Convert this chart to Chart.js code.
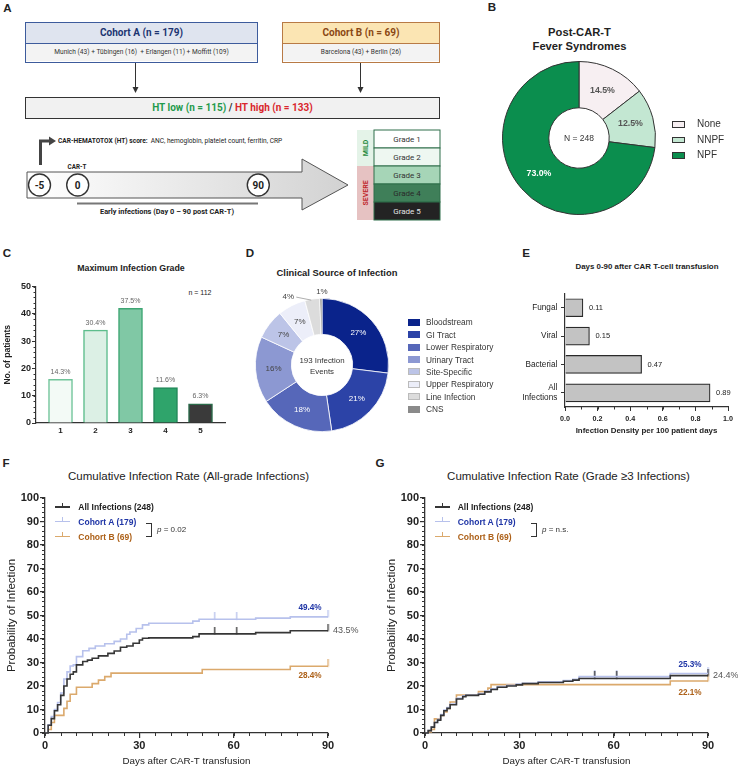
<!DOCTYPE html>
<html>
<head>
<meta charset="utf-8">
<title>Infections after CAR-T</title>
<script src="https://cdn.jsdelivr.net/npm/chart.js@4.4.1/dist/chart.umd.min.js"></script>
<style>
  html, body { margin: 0; padding: 0; background: #fff; }
  #fig { position: relative; width: 738px; height: 767px; overflow: hidden;
         font-family: 'Liberation Sans', Arial, sans-serif; color: #222; }
  #fig canvas { position: absolute; }
  .t { position: absolute; line-height: 1; white-space: nowrap; transform: translate(-50%, -50%); }
  .tl { transform: translate(0, -50%); }
  .box { position: absolute; box-sizing: border-box; }
  .rb { position: absolute; box-sizing: border-box; font-family: Roboto, sans-serif; text-align: center; }
</style>
</head>
<body>
<div id="fig">
  <!-- panel A: study design -->
  <div class="rb" style="left:25px;top:22px;width:233px;height:41px;border:1.5px solid #3d5b9c;">
    <div style="height:20px;line-height:20px;background:#dfe4ef;border-bottom:1px solid #3d5b9c;font-weight:bold;font-size:10px;color:#1c3572;">Cohort A (n = 179)</div>
    <div style="height:17px;line-height:17px;background:#f3f3f3;font-size:6.6px;color:#333;">Munich (43) + Tübingen (16)&nbsp; + Erlangen (11) + Moffitt (109)</div>
  </div>
  <div class="rb" style="left:282px;top:22px;width:158px;height:41px;border:1.5px solid #b87a45;">
    <div style="height:20px;line-height:20px;background:#fbe5b3;border-bottom:1px solid #b87a45;font-weight:bold;font-size:10px;color:#8a4814;">Cohort B (n = 69)</div>
    <div style="height:17px;line-height:17px;background:#f3f3f3;font-size:6.6px;color:#333;">Barcelona (43) + Berlin (26)</div>
  </div>
  <div class="rb" style="left:25px;top:96.5px;width:415px;height:22px;border:1.5px solid #333;background:#f1f1f1;line-height:19px;font-weight:bold;font-size:10px;color:#333;">
    <span style="color:#1f9a4b">HT low (n = 115)</span> / <span style="color:#d9262c">HT high (n = 133)</span>
  </div>
  <svg width="738" height="232" style="position:absolute;left:0;top:0" font-family="Roboto, sans-serif">
    <defs>
      <linearGradient id="arrowFill" x1="0" x2="1" y1="0" y2="0">
        <stop offset="0" stop-color="#ffffff"/>
        <stop offset="1" stop-color="#d2d2d2"/>
      </linearGradient>
    </defs>
    <line x1="135.5" y1="63" x2="135.5" y2="88" stroke="#333" stroke-width="1"/>
    <polygon points="132.5,87 138.5,87 135.5,93" fill="#333"/>
    <line x1="360.5" y1="63" x2="360.5" y2="88" stroke="#333" stroke-width="1"/>
    <polygon points="357.5,87 363.5,87 360.5,93" fill="#333"/>

    <polygon points="27,172 302,172 302,159 348,185 302,210 302,198 27,198" fill="url(#arrowFill)" stroke="#555" stroke-width="1"/>
    <path d="M40.5,165 V141 H50" fill="none" stroke="#444" stroke-width="3"/>
    <polygon points="49,136.5 56,141 49,145.5" fill="#444"/>
    <text x="58" y="143.2" font-size="6.6" fill="#222"><tspan font-weight="bold">CAR-HEMATOTOX (HT) score:</tspan><tspan dx="3">ANC, hemoglobin, platelet count, ferritin, CRP</tspan></text>
    <text x="77" y="169" font-size="6.3" font-weight="bold" text-anchor="middle" fill="#222">CAR-T</text>
    <circle cx="39.5" cy="185" r="11" fill="#fff" stroke="#333" stroke-width="1.4"/>
    <text x="39.5" y="188.6" font-size="10" font-weight="bold" text-anchor="middle" fill="#222">-5</text>
    <circle cx="77.7" cy="185" r="11" fill="#fff" stroke="#333" stroke-width="1.4"/>
    <text x="77.7" y="188.6" font-size="10" font-weight="bold" text-anchor="middle" fill="#222">0</text>
    <circle cx="258.3" cy="185" r="11" fill="#fff" stroke="#333" stroke-width="1.4"/>
    <text x="258.3" y="188.6" font-size="10" font-weight="bold" text-anchor="middle" fill="#222">90</text>
    <line x1="77" y1="203.5" x2="258" y2="203.5" stroke="#777" stroke-width="2"/>
    <text x="167" y="213.5" font-size="7.4" font-weight="bold" text-anchor="middle" fill="#222">Early infections (Day 0 – 90 post CAR-T)</text>

    <rect x="357" y="130" width="17" height="36" fill="#e4f3e8"/>
    <rect x="357" y="166" width="17" height="54" fill="#e6c2c2"/>
    <text transform="translate(368,148) rotate(-90)" font-size="7" font-weight="bold" fill="#1f8a3c" text-anchor="middle">MILD</text>
    <text transform="translate(368,193) rotate(-90)" font-size="7" font-weight="bold" fill="#c0282d" text-anchor="middle">SEVERE</text>
    <g stroke="#2f6e4a" stroke-width="1">
      <rect x="374" y="130" width="66" height="18" fill="#ffffff"/>
      <rect x="374" y="148" width="66" height="18" fill="#eef7f1"/>
      <rect x="374" y="166" width="66" height="18" fill="#a6d5b7"/>
      <rect x="374" y="184" width="66" height="18" fill="#3f7f59"/>
      <rect x="374" y="202" width="66" height="18" fill="#232323"/>
    </g>
    <g font-size="8" text-anchor="middle">
      <text x="407" y="141.8" fill="#333">Grade 1</text>
      <text x="407" y="159.8" fill="#333">Grade 2</text>
      <text x="407" y="177.8" fill="#333">Grade 3</text>
      <text x="407" y="195.8" fill="#2a2a2a">Grade 4</text>
      <text x="407" y="213.8" fill="#e4e4e4">Grade 5</text>
    </g>
  </svg>
</div>

<script>
// ---------- data ----------
// B: post CAR-T fever syndromes (% of 248)
const feverLabels = ['None', 'NNPF', 'NPF'];
const feverPct = [14.5, 12.5, 73.0];
const feverTotal = 248;

// C: maximum infection grade
const grades = [1, 2, 3, 4, 5];
const gradeCounts = [16, 34, 42, 13, 7];
const gradeTotal = 112;

// D: clinical source of infection (193 events)
const sourceLabels = ['Bloodstream', 'GI Tract', 'Lower Respiratory', 'Urinary Tract',
                      'Site-Specific', 'Upper Respiratory', 'Line Infection', 'CNS'];
const sourceCounts = [52, 40, 35, 31, 14, 13, 7, 1];

// E: infection density per 100 patient days
const densityLabels = ['Fungal', 'Viral', 'Bacterial', ['All', 'Infections']];
const densityValues = [0.11, 0.15, 0.47, 0.89];

// F/G: cumulative incidence (step curves), series = all, cohort A, cohort B
const kmNames = ['All Infections (248)', 'Cohort A (179)', 'Cohort B (69)'];

const fAllDays = [0, 1, 2, 3, 4, 5, 6, 7, 8, 9, 10, 12, 13.5, 15, 17, 20, 22, 24, 26, 28, 30, 31, 33, 47, 49, 67, 78, 90];
const fAllVals = [0, 3.3, 6.1, 9.5, 12, 16, 20, 23, 25, 26, 29, 30.4, 31, 31.8, 32.8, 33.9, 34.9, 36.5, 37, 38.2, 39.6, 40.3, 40.5, 41, 42.2, 42.7, 43.5, 43.5];
const fADays = [0, 1, 2, 3, 4, 5, 6, 7, 8, 9, 10, 12, 14, 16, 19, 22, 24, 26, 27, 29, 31, 33, 47, 49, 67, 78, 90];
const fAVals = [0, 3.5, 7, 10, 13, 17, 23, 26, 28.5, 29, 32.5, 35, 36, 37, 38, 39, 40, 42, 43, 44.5, 46, 46.7, 47.6, 48.4, 48.9, 49.4, 49.4];
const fBDays = [0, 1, 2, 3, 6, 7, 8, 10, 15, 17, 19, 21, 50, 78, 90];
const fBVals = [0, 1.5, 4.5, 7.5, 10.5, 13.5, 16.5, 19.5, 21, 22.5, 24, 25.5, 27, 28.4, 28.4];
const fCensor = [[54, 61, 90], [54, 61, 90], [90]];

const gAllDays = [0, 1, 2, 3, 4, 5, 6, 7, 8, 10, 12, 13, 17, 19, 21, 23, 26, 29, 31, 36, 44, 47, 49, 78, 90];
const gAllVals = [0, 1, 2.5, 4.5, 5.5, 7.5, 9.5, 10.5, 12, 14.5, 15.5, 16, 16.5, 17.5, 18.5, 19.5, 20, 20.5, 21, 21.5, 22, 22.5, 23.2, 24.4, 24.4];
const gADays = [0, 1, 2, 3, 4, 5, 6, 7, 8, 10, 12, 13, 17, 19, 21, 23, 26, 29, 31, 36, 44, 47, 49, 78, 90];
const gAVals = [0, 1, 2.5, 4.5, 5.8, 7.8, 9.8, 10.8, 12.3, 14.8, 15.8, 16.2, 16.8, 17.8, 18.8, 19.8, 20.3, 20.8, 21.2, 21.8, 22.3, 22.8, 24, 25.3, 25.3];
const gBDays = [0, 1, 2, 3, 5, 6, 7, 8, 10, 17, 20, 21, 78, 90];
const gBVals = [0, 0.5, 1.5, 6, 7.5, 9, 10.5, 13.2, 16.2, 17.6, 19.1, 20.6, 22.1, 22.1];
const gCensor = [[54, 61, 90], [54, 61, 90], [90]];

// ---------- styles ----------
const FONT = "'Liberation Sans', Arial, Helvetica, sans-serif";
const feverColors = ['#f7eff2', '#c3e7d2', '#0b8e4e'];
const gradeFill = ['#f3faf6', '#dcf0e5', '#80c8a5', '#2fa46b', '#3a3a3a'];
const gradeBorder = ['#6fc499', '#5dbd8c', '#3ea673', '#23885a', '#2b6b4a'];
const sourceColors = ['#0a238b', '#2c43a7', '#5667b9', '#8c98d2', '#bcc4e7', '#eceef9', '#dcdcdc', '#8a8a8a'];
const kmLineColors = ['#363636', '#b7c1ec', '#dba96c'];
const kmTextColors = ['#1e1e1e', '#1f35a6', '#ad6119'];

Chart.defaults.font.family = FONT;
Chart.defaults.color = '#222';
Chart.defaults.animation = false;
Chart.defaults.plugins.legend.display = false;
Chart.defaults.plugins.tooltip.enabled = false;

const fig = document.getElementById('fig');

function txt(x, y, html, css, left) {
  const d = document.createElement('div');
  d.className = left ? 't tl' : 't';
  d.style.cssText = 'left:' + x + 'px;top:' + y + 'px;' + (css || '');
  d.innerHTML = html;
  fig.appendChild(d);
  return d;
}
function box(x, y, w, h, css) {
  const d = document.createElement('div');
  d.className = 'box';
  d.style.cssText = 'left:' + x + 'px;top:' + y + 'px;width:' + w + 'px;height:' + h + 'px;' + css;
  fig.appendChild(d);
  return d;
}
function makeCanvas(x, y, w, h) {
  const c = document.createElement('canvas');
  c.width = w; c.height = h;
  c.style.left = x + 'px'; c.style.top = y + 'px';
  c.style.width = w + 'px'; c.style.height = h + 'px';
  fig.appendChild(c);
  return c;
}

// small ticks between the labelled ones
const minorTicks = {
  id: 'minorTicks',
  afterDraw(chart, args, opts) {
    const ctx = chart.ctx;
    (opts.axes || []).forEach(a => {
      const s = chart.scales[a.id];
      const n = Math.round((s.max - s.min) / a.step);
      ctx.save();
      ctx.strokeStyle = '#333';
      ctx.lineWidth = 1;
      for (let k = 0; k <= n; k++) {
        const p = Math.round(s.getPixelForValue(s.min + k * a.step)) + 0.5;
        ctx.beginPath();
        if (s.isHorizontal()) { ctx.moveTo(p, s.top); ctx.lineTo(p, s.top + a.len); }
        else { ctx.moveTo(s.right, p); ctx.lineTo(s.right - a.len, p); }
        ctx.stroke();
      }
      ctx.restore();
    });
  }
};

// text next to bars
const barText = {
  id: 'barText',
  afterDatasetsDraw(chart, args, o) {
    const ctx = chart.ctx;
    chart.getDatasetMeta(0).data.forEach((b, i) => {
      ctx.save();
      ctx.font = o.font;
      ctx.fillStyle = o.color;
      if (o.pos === 'right') {
        ctx.textAlign = 'left'; ctx.textBaseline = 'middle';
        ctx.fillText(o.texts[i], b.x + 6, b.y);
      } else {
        ctx.textAlign = 'center'; ctx.textBaseline = 'bottom';
        ctx.fillText(o.texts[i], b.x, b.y - 4);
      }
      ctx.restore();
    });
  }
};

// percentage labels on doughnut slices
const arcLabels = {
  id: 'arcLabels',
  afterDatasetsDraw(chart, args, o) {
    const ctx = chart.ctx;
    chart.getDatasetMeta(0).data.forEach((arc, i) => {
      const it = o.items[i];
      if (!it) return;
      let x, y;
      if (it.outside) {
        const a = (arc.startAngle + arc.endAngle) / 2;
        const ex = arc.x + Math.cos(a) * arc.outerRadius;
        const ey = arc.y + Math.sin(a) * arc.outerRadius;
        x = ex + it.dx; y = ey + it.dy;
        if (it.leader) {
          ctx.save();
          ctx.strokeStyle = '#999'; ctx.lineWidth = 0.8;
          ctx.beginPath(); ctx.moveTo(x + 8, y); ctx.lineTo(ex - 1, ey + 1); ctx.stroke();
          ctx.restore();
        }
      } else {
        const p = arc.getCenterPoint();
        x = p.x; y = p.y;
      }
      ctx.save();
      ctx.font = it.font; ctx.fillStyle = it.color;
      ctx.textAlign = 'center'; ctx.textBaseline = 'middle';
      ctx.fillText(it.text, x, y);
      ctx.restore();
    });
  }
};

// final values printed at the end of each curve
const endLabels = {
  id: 'endLabels',
  afterDatasetsDraw(chart, args, o) {
    const ctx = chart.ctx, xs = chart.scales.x, ys = chart.scales.y;
    o.items.forEach(it => {
      ctx.save();
      ctx.font = it.font; ctx.fillStyle = it.color;
      ctx.textAlign = it.align; ctx.textBaseline = 'middle';
      ctx.fillText(it.text, xs.getPixelForValue(it.x) + it.dx, ys.getPixelForValue(it.y) + it.dy);
      ctx.restore();
    });
  }
};

// ---------- panel letters and titles ----------
const L = 'font-weight:bold;font-size:11.6px;';
txt(7.5, 7.5, 'A', L);
txt(492, 6.5, 'B', L);
txt(7, 253, 'C', L);
txt(250, 253, 'D', L);
txt(526, 253, 'E', L);
txt(6, 463, 'F', L);
txt(380, 463, 'G', L);

txt(579.5, 33, 'Post-CAR-T', 'font-weight:bold;font-size:11.2px;');
txt(579.5, 46.7, 'Fever Syndromes', 'font-weight:bold;font-size:11.2px;');
txt(131, 267.7, 'Maximum Infection Grade', 'font-weight:bold;font-size:8.8px;');
txt(200, 291.7, 'n = ' + gradeTotal, 'font-size:7px;');
txt(337, 272.7, 'Clinical Source of Infection', 'font-weight:bold;font-size:9.4px;');
txt(647, 267, 'Days 0-90 after CAR T-cell transfusion', 'font-weight:bold;font-size:7.9px;');
txt(188.5, 476.7, 'Cumulative Infection Rate (All-grade Infections)', 'font-size:11.5px;');
txt(568.5, 476.7, 'Cumulative Infection Rate (Grade ≥3 Infections)', 'font-size:11.5px;');

// ---------- B: doughnut ----------
new Chart(makeCanvas(500, 59, 158, 158), {
  type: 'doughnut',
  data: {
    labels: feverLabels,
    datasets: [{ data: feverPct, backgroundColor: feverColors, borderColor: '#333', borderWidth: 1 }]
  },
  options: {
    responsive: false,
    cutout: '39.5%',
    layout: { padding: 2 },
    plugins: {
      arcLabels: {
        items: feverPct.map((p, i) => ({
          text: p.toFixed(1) + '%',
          font: 'bold 8.8px ' + FONT,
          color: i === 2 ? '#ffffff' : '#555'
        }))
      }
    }
  },
  plugins: [arcLabels]
});
txt(579, 138, 'N = ' + feverTotal, 'font-size:8.5px;color:#333;');
feverLabels.forEach((l, i) => {
  const y = 124 + i * 15.7;
  box(672, y - 3, 13, 6.5, 'background:' + feverColors[i] + ';border:1px solid #333;');
  txt(697, y, l, 'font-size:10px;color:#333;', true);
});

// ---------- C: bar chart ----------
new Chart(makeCanvas(0, 275, 235, 170), {
  type: 'bar',
  data: {
    datasets: [{
      data: grades.map((g, i) => ({ x: g, y: gradeCounts[i] })),
      backgroundColor: gradeFill,
      borderColor: gradeBorder,
      borderWidth: 1.5,
      barThickness: 24
    }]
  },
  options: {
    responsive: false,
    layout: { padding: { top: 11.5, right: 10, left: 0, bottom: 0 } },
    scales: {
      x: {
        type: 'linear', min: 0.3, max: 5.7, offset: false,
        afterBuildTicks: s => { s.ticks = grades.map(v => ({ value: v })); },
        afterFit: s => { s.height = 22; },
        ticks: { font: { size: 8, weight: 'bold' }, padding: 3.2, color: '#222' },
        grid: { display: false, drawTicks: false, offset: false },
        border: { color: '#333', width: 1.2 }
      },
      y: {
        min: 0, max: 50,
        afterFit: s => { s.width = 36; },
        ticks: { stepSize: 10, font: { size: 9, weight: 'bold' }, padding: 1, color: '#222' },
        grid: { drawOnChartArea: false, tickLength: 4, color: '#333' },
        border: { color: '#333', width: 1.2 },
        title: { display: true, text: 'No. of patients', font: { size: 8.6, weight: 'bold' }, padding: { top: 2, bottom: 0 }, color: '#222' }
      }
    },
    plugins: {
      minorTicks: { axes: [{ id: 'y', step: 2, len: 2.5 }] },
      barText: {
        texts: gradeCounts.map(c => (c / gradeTotal * 100).toFixed(1) + '%'),
        font: '7px ' + FONT, color: '#666', pos: 'top'
      }
    }
  },
  plugins: [minorTicks, barText]
});

// ---------- D: doughnut ----------
const sourceTotal = sourceCounts.reduce((a, b) => a + b, 0);
const dOutside = { 6: { dx: -24, dy: -2, leader: true }, 7: { dx: 1, dy: -7 } };
new Chart(makeCanvas(232, 275, 180, 180), {
  type: 'doughnut',
  data: {
    labels: sourceLabels,
    datasets: [{ data: sourceCounts, backgroundColor: sourceColors, borderColor: '#ffffff', borderWidth: 0.8 }]
  },
  options: {
    responsive: false,
    cutout: '46%',
    layout: { padding: 23 },
    plugins: {
      arcLabels: {
        items: sourceCounts.map((c, i) => Object.assign({
          text: Math.round(c / sourceTotal * 100) + '%',
          font: '8px ' + FONT,
          color: i < 3 ? '#ffffff' : '#444',
          outside: !!dOutside[i]
        }, dOutside[i] || {}))
      }
    }
  },
  plugins: [arcLabels]
});
txt(322, 361, sourceTotal + ' Infection', 'font-size:7.9px;color:#333;');
txt(322, 371.5, 'Events', 'font-size:7.9px;color:#333;');
sourceLabels.forEach((l, i) => {
  const y = 322.3 + i * 12.4;
  const edge = (i >= 4 && i <= 6) ? '#bbb' : sourceColors[i];
  box(408, y - 3.5, 12, 7, 'background:' + sourceColors[i] + ';border:0.5px solid ' + edge + ';');
  txt(426, y, l, 'font-size:8.3px;color:#333;', true);
});

// ---------- E: horizontal bars ----------
new Chart(makeCanvas(500, 280, 238, 160), {
  type: 'bar',
  data: {
    labels: densityLabels,
    datasets: [{ data: densityValues, backgroundColor: '#c3c3c3', borderColor: '#2a2a2a', borderWidth: 1.2, barThickness: 18 }]
  },
  options: {
    indexAxis: 'y',
    responsive: false,
    layout: { padding: { top: 3, right: 10, left: 0, bottom: 0 } },
    scales: {
      x: {
        min: 0, max: 1,
        afterFit: s => { s.height = 33; },
        ticks: { stepSize: 0.2, callback: v => v.toFixed(1), font: { size: 7.2, weight: 'bold' }, padding: 3.5, color: '#222', maxRotation: 0 },
        grid: { drawOnChartArea: false, tickLength: 4, color: '#333' },
        border: { color: '#333', width: 1.2 },
        title: { display: true, text: 'Infection Density per 100 patient days', font: { size: 7.9, weight: 'bold' }, padding: { top: 0, bottom: 4.3 }, color: '#222' }
      },
      y: {
        afterFit: s => { s.width = 65; },
        ticks: { font: { size: 8.2 }, padding: 3.7, color: '#222' },
        grid: { drawOnChartArea: false, tickLength: 4, color: '#333', offset: false },
        border: { color: '#333', width: 1.2 }
      }
    },
    plugins: {
      minorTicks: { axes: [{ id: 'x', step: 0.1, len: 2.5 }] },
      barText: { texts: densityValues.map(v => v.toFixed(2)), font: '7.5px ' + FONT, color: '#222', pos: 'right' }
    }
  },
  plugins: [minorTicks, barText]
});

// ---------- F / G: step curves ----------
function valueAt(days, vals, d) {
  let v = 0;
  for (let i = 0; i < days.length; i++) if (days[i] <= d) v = vals[i];
  return v;
}
function censorMark(color) {
  const c = document.createElement('canvas');
  c.width = 3; c.height = 14;
  const x = c.getContext('2d');
  x.strokeStyle = color; x.lineWidth = 1.3;
  x.beginPath(); x.moveTo(1.5, 0); x.lineTo(1.5, 7.5); x.stroke();
  return c;
}
function kmChart(canvas, series, censor, yAxisW, padRight, titlePad, labelOffsets) {
  const datasets = series.map((s, i) => ({
    data: s.days.map((d, k) => ({ x: d, y: s.vals[k] })),
    borderColor: kmLineColors[i], borderWidth: 1.6, stepped: true,
    pointRadius: 0, fill: false, clip: false
  }));
  series.forEach((s, i) => {
    datasets.push({
      data: censor[i].map(d => ({ x: d, y: valueAt(s.days, s.vals, d) })),
      showLine: false, pointStyle: censorMark(kmLineColors[i]), pointRadius: 4, clip: false
    });
  });
  const labels = series.map((s, i) => {
    const last = s.vals[s.vals.length - 1];
    return Object.assign({ text: last.toFixed(1) + '%', x: s.days[s.days.length - 1], y: last }, labelOffsets[i]);
  });
  return new Chart(canvas, {
    type: 'line',
    data: { datasets },
    options: {
      responsive: false,
      layout: { padding: { top: 8, right: padRight, left: 0, bottom: 0 } },
      scales: {
        x: {
          type: 'linear', min: 0, max: 90,
          afterFit: s => { s.height = 34; },
          ticks: { stepSize: 30, font: { size: 11, weight: 'bold' }, padding: 1.5, color: '#222', maxRotation: 0 },
          grid: { drawOnChartArea: false, tickLength: 5, color: '#333', lineWidth: 1.2 },
          border: { color: '#333', width: 1.3 },
          title: { display: true, text: 'Days after CAR-T transfusion', font: { size: 9.8 }, padding: { top: 0, bottom: 0 }, color: '#222' }
        },
        y: {
          min: 0, max: 100,
          afterFit: s => { s.width = yAxisW; },
          ticks: { stepSize: 10, font: { size: 11, weight: 'bold' }, padding: 1, color: '#222' },
          grid: { drawOnChartArea: false, tickLength: 5, color: '#333', lineWidth: 1.2 },
          border: { color: '#333', width: 1.3 },
          title: { display: true, text: 'Probability of Infection', font: { size: 11.5 }, padding: { top: titlePad, bottom: 0 }, color: '#222' }
        }
      },
      plugins: {
        minorTicks: { axes: [{ id: 'x', step: 5, len: 3 }, { id: 'y', step: 2, len: 3 }] },
        endLabels: { items: labels }
      }
    },
    plugins: [minorTicks, endLabels]
  });
}
function kmLegend(lineX, textX, bracketX, pHtml) {
  kmNames.forEach((n, i) => {
    const y = 507 + i * 14.8;
    box(lineX, y - 0.6, 15, 1.3, 'background:' + kmLineColors[i] + ';');
    box(lineX + 7, y - 4.5, 1.3, 4.5, 'background:' + kmLineColors[i] + ';');
    txt(textX, y, n, 'font-weight:bold;font-size:8.5px;color:' + kmTextColors[i] + ';', true);
  });
  box(bracketX, 522.7, 6, 14.5, 'border:1px solid #333;border-left:none;');
  txt(bracketX + 11, 529.5, pHtml, 'font-size:8px;color:#333;', true);
}

const endStyle = [
  { dx: 5, dy: 0, align: 'left', color: '#555', font: '9px ' + FONT },
  { dx: -18, dy: -9, align: 'center', color: kmTextColors[1], font: 'bold 8.2px ' + FONT },
  { dx: -18, dy: 9, align: 'center', color: kmTextColors[2], font: 'bold 8.2px ' + FONT }
];

kmChart(makeCanvas(0, 490, 370, 277),
  [{ days: fAllDays, vals: fAllVals }, { days: fADays, vals: fAVals }, { days: fBDays, vals: fBVals }],
  fCensor, 45, 42, 5.1, endStyle);
kmLegend(55, 78.3, 146, '<i>p</i> = 0.02');

kmChart(makeCanvas(370, 490, 368, 277),
  [{ days: gAllDays, vals: gAllVals }, { days: gADays, vals: gAVals }, { days: gBDays, vals: gBVals }],
  gCensor, 55, 30, 15.1,
  [endStyle[0], endStyle[1], Object.assign({}, endStyle[2], { dy: 12 })]);
kmLegend(435, 457.7, 531, '<i>p</i> = n.s.');
</script>
</body>
</html>
